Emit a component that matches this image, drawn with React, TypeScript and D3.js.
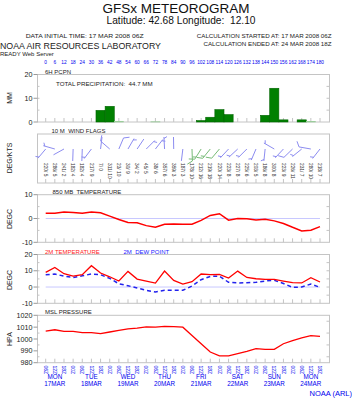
import React from "react";
import * as d3 from "d3";

const HOURS = [0,6,12,18,24,30,36,42,48,54,60,66,72,78,84,90,96,102,108,114,120,126,132,138,144,150,156,162,168,174,180];
const PRECIP = [0,0,0,0,0,0,4.9,6.6,0.3,0,0,0,0.1,0,0,0,0,0.6,2.0,5.2,3.1,0,0,0,2.8,14.2,0.9,0,0.9,0.2,0];
const T850 = [2.25,2.2,2.7,2.5,2.25,2.7,2.4,1.0,-0.4,-1.7,-1.8,-3.0,-3.7,-2.4,-2.3,-2.4,-2.4,-0.8,1.3,2.0,-0.7,0,-0.1,-0.6,-0.3,-1.0,-2.1,-3.7,-5.2,-4.9,-3.4];
const T2M = [9.0,12.0,8.2,6.7,7.6,13.1,8.6,6.3,3.7,9.6,4.9,3.7,2.4,9.8,4.1,1.8,3.3,8.0,7.6,7.8,5.5,9.8,5.9,5.1,4.7,4.7,3.7,2.7,2.5,5.7,3.1];
const TD2M = [7.6,8.0,6.7,5.9,6.9,8.0,7.6,5.3,2.0,0.8,-0.6,-2.0,-3.1,-2.0,-2.0,-2.0,0.6,4.5,6.5,6.7,2.9,2.5,2.7,2.9,3.7,4.1,2.2,-0.2,0,1.8,-0.2];
const PRES = [1006.7,1007.8,1006.4,1006.4,1005.3,1005.3,1004.5,1005.9,1007.2,1008.6,1009.2,1010.3,1010.0,1010.6,1010.4,1010.0,1003.0,996.0,989.0,985.8,985.8,987.7,989.6,991.8,991.3,991.3,996.0,998.7,1000.9,1002.8,1002.3];
const WDIR = [220,286,241,182,182,217,7,311,23,30,34,45,38,357,359,187,178,212,219,220,223,227,225,203,186,300,223,226,231,280,218];
const WSPD = [5,5,2,4,4,9,0,10,10,9,2,5,6,6,3,3,10,16,18,14,8,8,6,5,8,8,9,11,7,10,7];
const TIME_LABELS = ["06Z","12Z","18Z","00Z","06Z","12Z","18Z","00Z","06Z","12Z","18Z","00Z","06Z","12Z","18Z","00Z","06Z","12Z","18Z","00Z","06Z","12Z","18Z","00Z","06Z","12Z","18Z","00Z","06Z","12Z","18Z"];
const DAY_NAMES = ["MON","TUE","WED","THU","FRI","SAT","SUN","MON"];
const DAY_DATES = ["17MAR","18MAR","19MAR","20MAR","21MAR","22MAR","23MAR","24MAR"];
const DAY_HOURS = [6,30,54,78,102,126,150,174];
const GREEN_WIND = [16,17,18,19];

const FL = 37.5, FR = 329.5;
const FONT = "'Liberation Sans', Arial, Helvetica, sans-serif";
const BLUE = "#0000ee";
const GRID = "#c4c4c4";

const x = d3.scaleLinear().domain([0, 180]).range([45.7, 320]);
const yP = d3.scaleLinear().domain([0, 20]).range([122, 74.5]);
const y850 = d3.scaleLinear().domain([-10, 10]).range([242.3, 194.7]);
const y2m = d3.scaleLinear().domain([-10, 20]).range([303.3, 254.5]);
const yPr = d3.scaleLinear().domain([980, 1020]).range([362.7, 315.3]);

function Frame({ top, bottom, ticks, scale, minor }: any) {
  return (
    <g>
      <rect x={FL} y={top} width={FR - FL} height={bottom - top} fill="none" stroke={GRID} strokeWidth={1} />
      {HOURS.map((h) => (
        <line key={h} x1={x(h)} x2={x(h)} y1={bottom} y2={bottom - 4} stroke={GRID} strokeWidth={1} />
      ))}
      {scale && minor && minor.map((v: number, i: number) => (
        <g key={i}>
          <line x1={FR} x2={FR - 3} y1={scale(v)} y2={scale(v)} stroke={GRID} />
          <line x1={FL} x2={FL + 2} y1={scale(v)} y2={scale(v)} stroke={GRID} />
        </g>
      ))}
      {scale && ticks && ticks.map((v: number) => (
        <g key={v}>
          <line x1={FL - 4} x2={FL} y1={scale(v)} y2={scale(v)} stroke="#999" />
          <text x={32.5} y={scale(v) + 2.5} textAnchor="end" fontSize={7.2} fill="#222">{v}</text>
        </g>
      ))}
    </g>
  );
}

function AxisTitle({ label, yc }: any) {
  return (
    <text transform={`translate(12,${yc}) rotate(-90)`} textAnchor="middle" fontSize={7} fill="#222">{label}</text>
  );
}

function barb(i: number) {
  const cx = x(HOURS[i]);
  const cy = 149;
  const d = (WDIR[i] * Math.PI) / 180;
  const ux = Math.sin(d), uy = -Math.cos(d);
  const L = 12;
  const tx = cx + ux * L, ty = cy + uy * L;
  let path = `M${cx},${cy}L${tx},${ty}`;
  const a = (60 * Math.PI) / 180;
  const bx = ux * Math.cos(a) - uy * Math.sin(a);
  const by = ux * Math.sin(a) + uy * Math.cos(a);
  const s = WSPD[i];
  let pos = 0;
  const full = Math.floor(s / 10);
  const half = s % 10 >= 5 ? 1 : 0;
  for (let k = 0; k < full; k++) {
    const px = tx - ux * pos, py = ty - uy * pos;
    path += `M${px},${py}l${bx * 6},${by * 6}`;
    pos += 2.5;
  }
  if (half) {
    if (full === 0) pos = 1.5;
    const px = tx - ux * pos, py = ty - uy * pos;
    path += `M${px},${py}l${bx * 3.5},${by * 3.5}`;
  }
  return path;
}

export default function App() {
  const line850 = d3.line<number>().x((_, i) => x(HOURS[i])).y((v) => y850(v));
  const lineT = d3.line<number>().x((_, i) => x(HOURS[i])).y((v) => y2m(v));
  const lineP = d3.line<number>().x((_, i) => x(HOURS[i])).y((v) => yPr(v));
  const step = x(6) - x(0);
  return (
    <svg width={352} height={400} style={{ position: "absolute", left: 0, top: 0, background: "#fff" }} fontFamily={FONT}>
      <rect width={352} height={400} fill="#fff" />
      <text x={176} y={13} textAnchor="middle" fontSize={13.5} fill="#111">GFSx METEOROGRAM</text>
      <text x={181} y={24} textAnchor="middle" fontSize={10.2} fill="#111" xmlSpace="preserve">Latitude: 42.68 Longitude:  12.10</text>
      <text x={25.7} y={38} fontSize={6.2} fill="#222" textLength={118} lengthAdjust="spacingAndGlyphs">DATA INITIAL TIME: 17 MAR 2008 06Z</text>
      <text x={331.5} y={38} textAnchor="end" fontSize={6.2} fill="#222">CALCULATION STARTED AT: 17 MAR 2008 06Z</text>
      <text x={331.5} y={45.5} textAnchor="end" fontSize={6.2} fill="#222">CALCULATION ENDED AT: 24 MAR 2008 18Z</text>
      <text x={0} y={48.5} fontSize={8.4} fill="#222" textLength={161} lengthAdjust="spacingAndGlyphs">NOAA AIR RESOURCES LABORATORY</text>
      <text x={0} y={55.5} fontSize={6} fill="#222">READY Web Server</text>
      {HOURS.map((h) => (
        <text key={h} x={x(h)} y={64} textAnchor="middle" fontSize={4.8} fill={BLUE}>{h}</text>
      ))}

      {/* Panel 1: precipitation */}
      <text x={45} y={73.5} fontSize={6} fill="#222">6H PCPN</text>
      <Frame top={74.5} bottom={122} ticks={[0, 10, 20]} scale={yP} minor={[5, 10, 15]} />
      {PRECIP.map((v, i) => v > 0 && (
        <rect key={i} x={x(HOURS[i]) - step / 2} y={yP(v)} width={step} height={yP(0) - yP(v)}
          fill={v < 0.5 ? "#9c9" : "#008000"} stroke={v < 0.5 ? "#9c9" : "#006400"} strokeWidth={0.6} />
      ))}
      <text x={56} y={85.5} fontSize={6.2} fill="#222" xmlSpace="preserve">TOTAL PRECIPITATION:  44.7 MM</text>
      <AxisTitle label="MM" yc={98} />

      {/* Panel 2: wind */}
      <text x={51.5} y={132.5} fontSize={6} fill="#222" xmlSpace="preserve">10 M  WIND FLAGS</text>
      <Frame top={134} bottom={183} />
      {HOURS.map((h, i) => (
        <path key={h} d={barb(i)} fill="none" stroke={GREEN_WIND.includes(i) ? "#77bb77" : "#8c8cf0"} strokeWidth={1} />
      ))}
      {HOURS.map((h, i) => (
        <text key={h} transform={`translate(${x(h) - 1.8},163) rotate(90)`} fontSize={4.8} fill="#333" xmlSpace="preserve">{`${WDIR[i]}/ ${WSPD[i]}`}</text>
      ))}
      <AxisTitle label="DEG/KTS" yc={158} />

      {/* Panel 3: 850 temp */}
      <text x={52.5} y={194} fontSize={6} fill="#222" xmlSpace="preserve">850 MB  TEMPERATURE</text>
      <Frame top={194.7} bottom={242.3} ticks={[-10, 0, 10]} scale={y850} minor={[-5, 0, 5]} />
      <line x1={x(0)} x2={x(180)} y1={y850(0)} y2={y850(0)} stroke="#c8c8ff" strokeWidth={1} />
      <path d={line850(T850) || ""} fill="none" stroke="#ff0000" strokeWidth={1.5} />
      <AxisTitle label="DEGC" yc={219} />

      {/* Panel 4: 2m temp / dew point */}
      <text x={45} y={253.5} fontSize={6} fill="#ff2222">2M TEMPERATURE</text>
      <text x={123.5} y={253.5} fontSize={6} fill="#2222ff" xmlSpace="preserve">2M  DEW POINT</text>
      <Frame top={254.5} bottom={303.3} ticks={[-10, 0, 10, 20]} scale={y2m} minor={[-5, 0, 5, 10, 15]} />
      <line x1={x(0)} x2={x(180)} y1={y2m(0)} y2={y2m(0)} stroke="#c8c8ff" strokeWidth={1} />
      <path d={lineT(TD2M) || ""} fill="none" stroke="#2222ee" strokeWidth={1.5} strokeDasharray="4,3" />
      <path d={lineT(T2M) || ""} fill="none" stroke="#ff0000" strokeWidth={1.3} />
      <AxisTitle label="DEGC" yc={280} />

      {/* Panel 5: pressure */}
      <text x={45} y={313.5} fontSize={6} fill="#222">MSL PRESSURE</text>
      <Frame top={315.3} bottom={362.7} ticks={[980, 990, 1000, 1010, 1020]} scale={yPr} minor={[985, 995, 1005, 1015]} />
      <path d={lineP(PRES) || ""} fill="none" stroke="#ff0000" strokeWidth={1.3} />
      <AxisTitle label="HPA" yc={339} />

      {HOURS.map((h, i) => (
        <text key={h} transform={`translate(${x(h) - 1.8},365.5) rotate(90)`} fontSize={5} fill={BLUE}>{TIME_LABELS[i]}</text>
      ))}
      {DAY_HOURS.map((h, i) => (
        <g key={i}>
          <text x={x(h)} y={378.5} textAnchor="middle" fontSize={6.3} fill={BLUE}>{DAY_NAMES[i]}</text>
          <text x={x(h)} y={385.5} textAnchor="middle" fontSize={6.3} fill={BLUE}>{DAY_DATES[i]}</text>
        </g>
      ))}
      <text x={352} y={396} textAnchor="end" fontSize={7.5} fill={BLUE}>NOAA (ARL)</text>
    </svg>
  );
}
